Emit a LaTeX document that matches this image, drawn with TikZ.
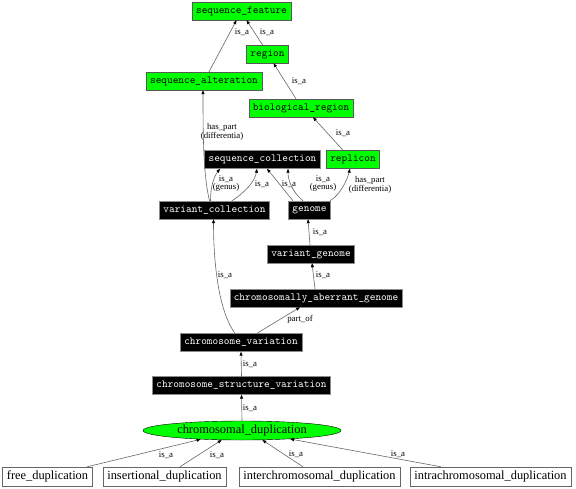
\documentclass[tikz,border=0pt]{standalone}
\usepackage{fontspec}
\setmainfont{Liberation Serif}
\usetikzlibrary{arrows.meta,shapes.geometric}

\begin{document}
\begin{tikzpicture}[x=1pt,y=-1pt]
\tikzstyle{every node}+=[inner sep=0pt]
\tikzstyle{greenterm}=[draw=black!65, fill=green, text=black, font=\ttfamily\fontsize{10.8}{11}\selectfont, minimum height=18pt, inner xsep=4pt]
\tikzstyle{blackterm}=[greenterm, draw=black!45, fill=black, text=white]
\tikzstyle{plainterm}=[draw=black!60, fill=white, font=\fontsize{12.4}{13}\selectfont, minimum height=19pt, inner xsep=4.5pt]
\tikzstyle{dupterm}=[ellipse, draw=black, fill=green, font=\fontsize{12.4}{13}\selectfont, minimum width=198pt, minimum height=19pt]
\tikzstyle{rel}=[draw=black!60, line width=0.6pt, -{Triangle[length=4pt,width=3pt,color=black]}]
\tikzstyle{lbl}=[font=\fontsize{8.8}{8}\selectfont, align=center]

\useasboundingbox (0,0) rectangle (576,488);

\node [greenterm] (sf) at (241.5,11) {sequence\_feature};
\node [greenterm] (region) at (267.5,54) {region};
\node [greenterm] (sa) at (204,81) {sequence\_alteration};
\node [greenterm] (br) at (301,108) {biological\_region};
\node [greenterm] (rep) at (353,159.5) {replicon};

\node [blackterm] (sc) at (262.5,159.5) {sequence\_collection};
\node [blackterm] (vc) at (214.5,210) {variant\_collection};
\node [blackterm] (genome) at (309.5,210) {genome};
\node [blackterm] (vg) at (311,254) {variant\_genome};
\node [blackterm] (cag) at (316,298) {chromosomally\_aberrant\_genome};
\node [blackterm] (cv) at (241,342.5) {chromosome\_variation};
\node [blackterm] (csv) at (241.5,385.5) {chromosome\_structure\_variation};

\node [dupterm] (cd) at (242,430.5) {chromosomal\_duplication};

\node [plainterm] (free) at (47.5,476.5) {free\_duplication};
\node [plainterm] (ins) at (164.5,476.5) {insertional\_duplication};
\node [plainterm] (inter) at (319.5,476.5) {interchromosomal\_duplication};
\node [plainterm] (intra) at (490.5,476.5) {intrachromosomal\_duplication};

\draw [rel] ([xshift=5pt]sa.north) -- ([xshift=-5pt]sf.south);
\node [lbl] (l1) at (242,32) {is\_a};
\draw [rel] ([xshift=-5pt]region.north) -- ([xshift=5pt]sf.south);
\node [lbl] (l2) at (267,32) {is\_a};
\draw [rel] ([xshift=-5pt]br.north) -- ([xshift=6pt]region.south);
\node [lbl] (l3) at (299,81) {is\_a};
\draw [rel] ([xshift=-10pt]rep.north) -- ([xshift=12pt]br.south);
\node [lbl] (l4) at (343,133) {is\_a};

\draw [rel] ([xshift=-5pt]vc.north) .. controls +(-6,-25) and +(0,50) .. ([xshift=-1pt]sa.south);
\node [lbl] (l5) at (222,132) {has\_part\\(differentia)};
\draw [rel] ([xshift=-4pt]vc.north) .. controls +(0,-15) and +(-6,8) .. ([xshift=-42.5pt]sc.south);
\node [lbl] (l6) at (226,184) {is\_a\\(genus)};
\draw [rel] ([xshift=17.5pt]vc.north) .. controls +(15,-10) and +(-2,12) .. ([xshift=-5.5pt]sc.south);
\node [lbl] (l7) at (262,184) {is\_a};
\draw [rel] ([xshift=-16.5pt]genome.north) -- ([xshift=4.5pt]sc.south);
\node [lbl] (l8) at (289,184) {is\_a};
\draw [rel] ([xshift=-6.5pt]genome.north) .. controls +(-12,-10) and +(0,10) .. ([xshift=25.5pt]sc.south);
\node [lbl] (l9) at (323,184) {is\_a\\(genus)};
\draw [rel] ([xshift=20.5pt]genome.north) .. controls +(10,-6) and +(-3,12) .. ([xshift=-3pt]rep.south);
\node [lbl] (l10) at (370,185) {has\_part\\(differentia)};

\draw [rel] ([xshift=-1pt]vg.north) -- ([xshift=-1.5pt]genome.south);
\node [lbl] (l11) at (320,232) {is\_a};
\draw [rel] ([xshift=-1pt]cag.north) -- ([xshift=1pt]vg.south);
\node [lbl] (l12) at (323,275) {is\_a};
\draw [rel] ([xshift=-6pt]cv.north) .. controls +(-15,-20) and +(0,50) .. ([xshift=-1pt]vc.south);
\node [lbl] (l13) at (225,275) {is\_a};
\draw [rel] ([xshift=16pt]cv.north) -- ([xshift=-16pt]cag.south);
\node [lbl] (l14) at (300,319) {part\_of};
\draw [rel] (csv.north) -- (cv.south);
\node [lbl] (l15) at (250,364) {is\_a};
\draw [rel] (cd.north) -- (csv.south);
\node [lbl] (l16) at (250,408) {is\_a};

\draw [rel] ([xshift=39.5pt]free.north) -- (cd.192);
\node [lbl] (l17) at (166,455) {is\_a};
\draw [rel] ([xshift=15.5pt]ins.north) -- (cd.205);
\node [lbl] (l18) at (217,455) {is\_a};
\draw [rel] ([xshift=-16.5pt]inter.north) -- (cd.335);
\node [lbl] (l19) at (296,454) {is\_a};
\draw [rel] ([xshift=-49.5pt]intra.north) -- (cd.350);
\node [lbl] (l20) at (398,454) {is\_a};
\end{tikzpicture}
\end{document}
